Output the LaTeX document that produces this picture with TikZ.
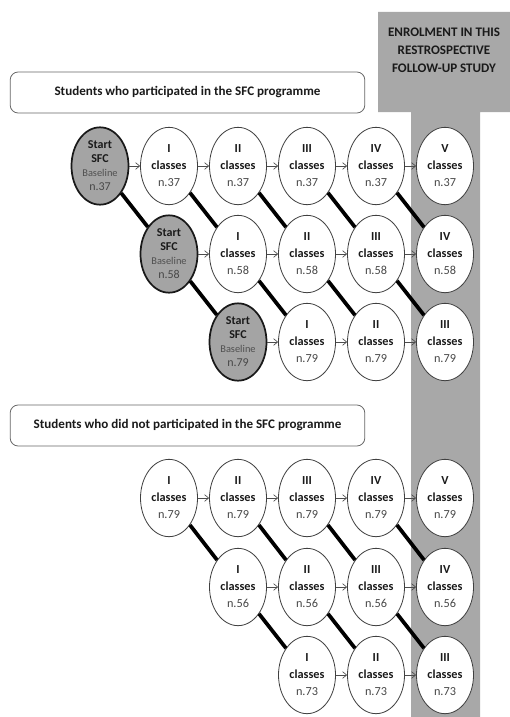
\documentclass[tikz,border=0pt]{standalone}
\usepackage{fontspec}
\setmainfont{Carlito}
\usetikzlibrary{shapes.geometric,arrows.meta}
\definecolor{band}{HTML}{A8A8A8}
\definecolor{startfill}{HTML}{A4A4A4}
\definecolor{numc}{HTML}{484848}
\definecolor{basec}{HTML}{505050}
\definecolor{txt}{HTML}{1A1A1A}
\newcommand\cltext[2]{\textbf{#1}\\\textbf{classes}\\\textcolor{numc}{n.#2}}
\newcommand\sttext[1]{\textbf{Start}\\\textbf{SFC}\\{\fontsize{7.8}{10.5}\selectfont\color{basec}Baseline}\\\textcolor{numc}{n.#1}}
\begin{document}
\begin{tikzpicture}[x=0.75pt,y=-0.75pt,
  cls/.style={ellipse,draw=black!75,line width=0.6pt,fill=white,
    minimum width=42.75pt,minimum height=58pt,inner sep=0pt,align=center,
    text=txt,font=\fontsize{9.2}{12.75}\selectfont},
  startnode/.style={cls,fill=startfill,line width=1.3pt,draw=black!90,
    font=\fontsize{9}{10.5}\selectfont},
  arr/.style={-{Straight Barb[length=3pt,width=5pt]},line width=0.5pt,draw=black!70},
  diag/.style={line width=2.8pt,draw=black},
  hdr/.style={draw=black!60,line width=0.6pt,rounded corners=6pt,fill=white,
    minimum width=266pt,minimum height=30.75pt,inner sep=0pt,text=txt,
    font=\bfseries\fontsize{9.8}{11}\selectfont},
  bandtext/.style={align=center,text=txt,font=\bfseries\fontsize{9.8}{13.5}\selectfont}
]
\useasboundingbox (0,0) rectangle (510,717);
\fill[white] (0,0) rectangle (510,717);
% grey band
\fill[band] (378,12) -- (510,12) -- (510,112) -- (480,112) -- (480,717)
  -- (411,717) -- (411,112) -- (378,112) -- cycle;
\node[bandtext] (bandlbl) at (444,50) {ENROLMENT IN THIS\\RESTROSPECTIVE\\FOLLOW-UP STUDY};
% headers
\node[hdr] (hdrA) at (187.5,92.5) {Students who participated in the SFC programme};
\node[hdr] (hdrB) at (187.5,425.5) {Students who did not participated in the SFC programme};
% top section
\node[startnode] (T10) at (100,166) {\sttext{37}};
\node[cls] (T11) at (169,166) {\cltext{I}{37}};
\node[cls] (T12) at (238,166) {\cltext{II}{37}};
\node[cls] (T13) at (307,166) {\cltext{III}{37}};
\node[cls] (T14) at (376,166) {\cltext{IV}{37}};
\node[cls] (T15) at (445,166) {\cltext{V}{37}};
\node[startnode] (T21) at (169,254) {\sttext{58}};
\node[cls] (T22) at (238,254) {\cltext{I}{58}};
\node[cls] (T23) at (307,254) {\cltext{II}{58}};
\node[cls] (T24) at (376,254) {\cltext{III}{58}};
\node[cls] (T25) at (445,254) {\cltext{IV}{58}};
\node[startnode] (T32) at (238,342) {\sttext{79}};
\node[cls] (T33) at (307,342) {\cltext{I}{79}};
\node[cls] (T34) at (376,342) {\cltext{II}{79}};
\node[cls] (T35) at (445,342) {\cltext{III}{79}};
% bottom section
\node[cls] (B11) at (169,498) {\cltext{I}{79}};
\node[cls] (B12) at (238,498) {\cltext{II}{79}};
\node[cls] (B13) at (307,498) {\cltext{III}{79}};
\node[cls] (B14) at (376,498) {\cltext{IV}{79}};
\node[cls] (B15) at (445,498) {\cltext{V}{79}};
\node[cls] (B22) at (238,587) {\cltext{I}{56}};
\node[cls] (B23) at (307,587) {\cltext{II}{56}};
\node[cls] (B24) at (376,587) {\cltext{III}{56}};
\node[cls] (B25) at (445,587) {\cltext{IV}{56}};
\node[cls] (B33) at (307,675) {\cltext{I}{73}};
\node[cls] (B34) at (376,675) {\cltext{II}{73}};
\node[cls] (B35) at (445,675) {\cltext{III}{73}};
% horizontal arrows
\foreach \a/\b in {T10/T11,T11/T12,T12/T13,T13/T14,T14/T15,
  T21/T22,T22/T23,T23/T24,T24/T25,T32/T33,T33/T34,T34/T35,
  B11/B12,B12/B13,B13/B14,B14/B15,B22/B23,B23/B24,B24/B25,B33/B34,B34/B35}
  \draw[arr] (\a) -- (\b);
% diagonals
\foreach \a/\b in {T10/T21,T11/T22,T12/T23,T13/T24,T14/T25,
  T21/T32,T22/T33,T23/T34,T24/T35,
  B11/B22,B12/B23,B13/B24,B14/B25,B22/B33,B23/B34,B24/B35}
  \draw[diag] (\a) -- (\b);
\end{tikzpicture}
\end{document}
